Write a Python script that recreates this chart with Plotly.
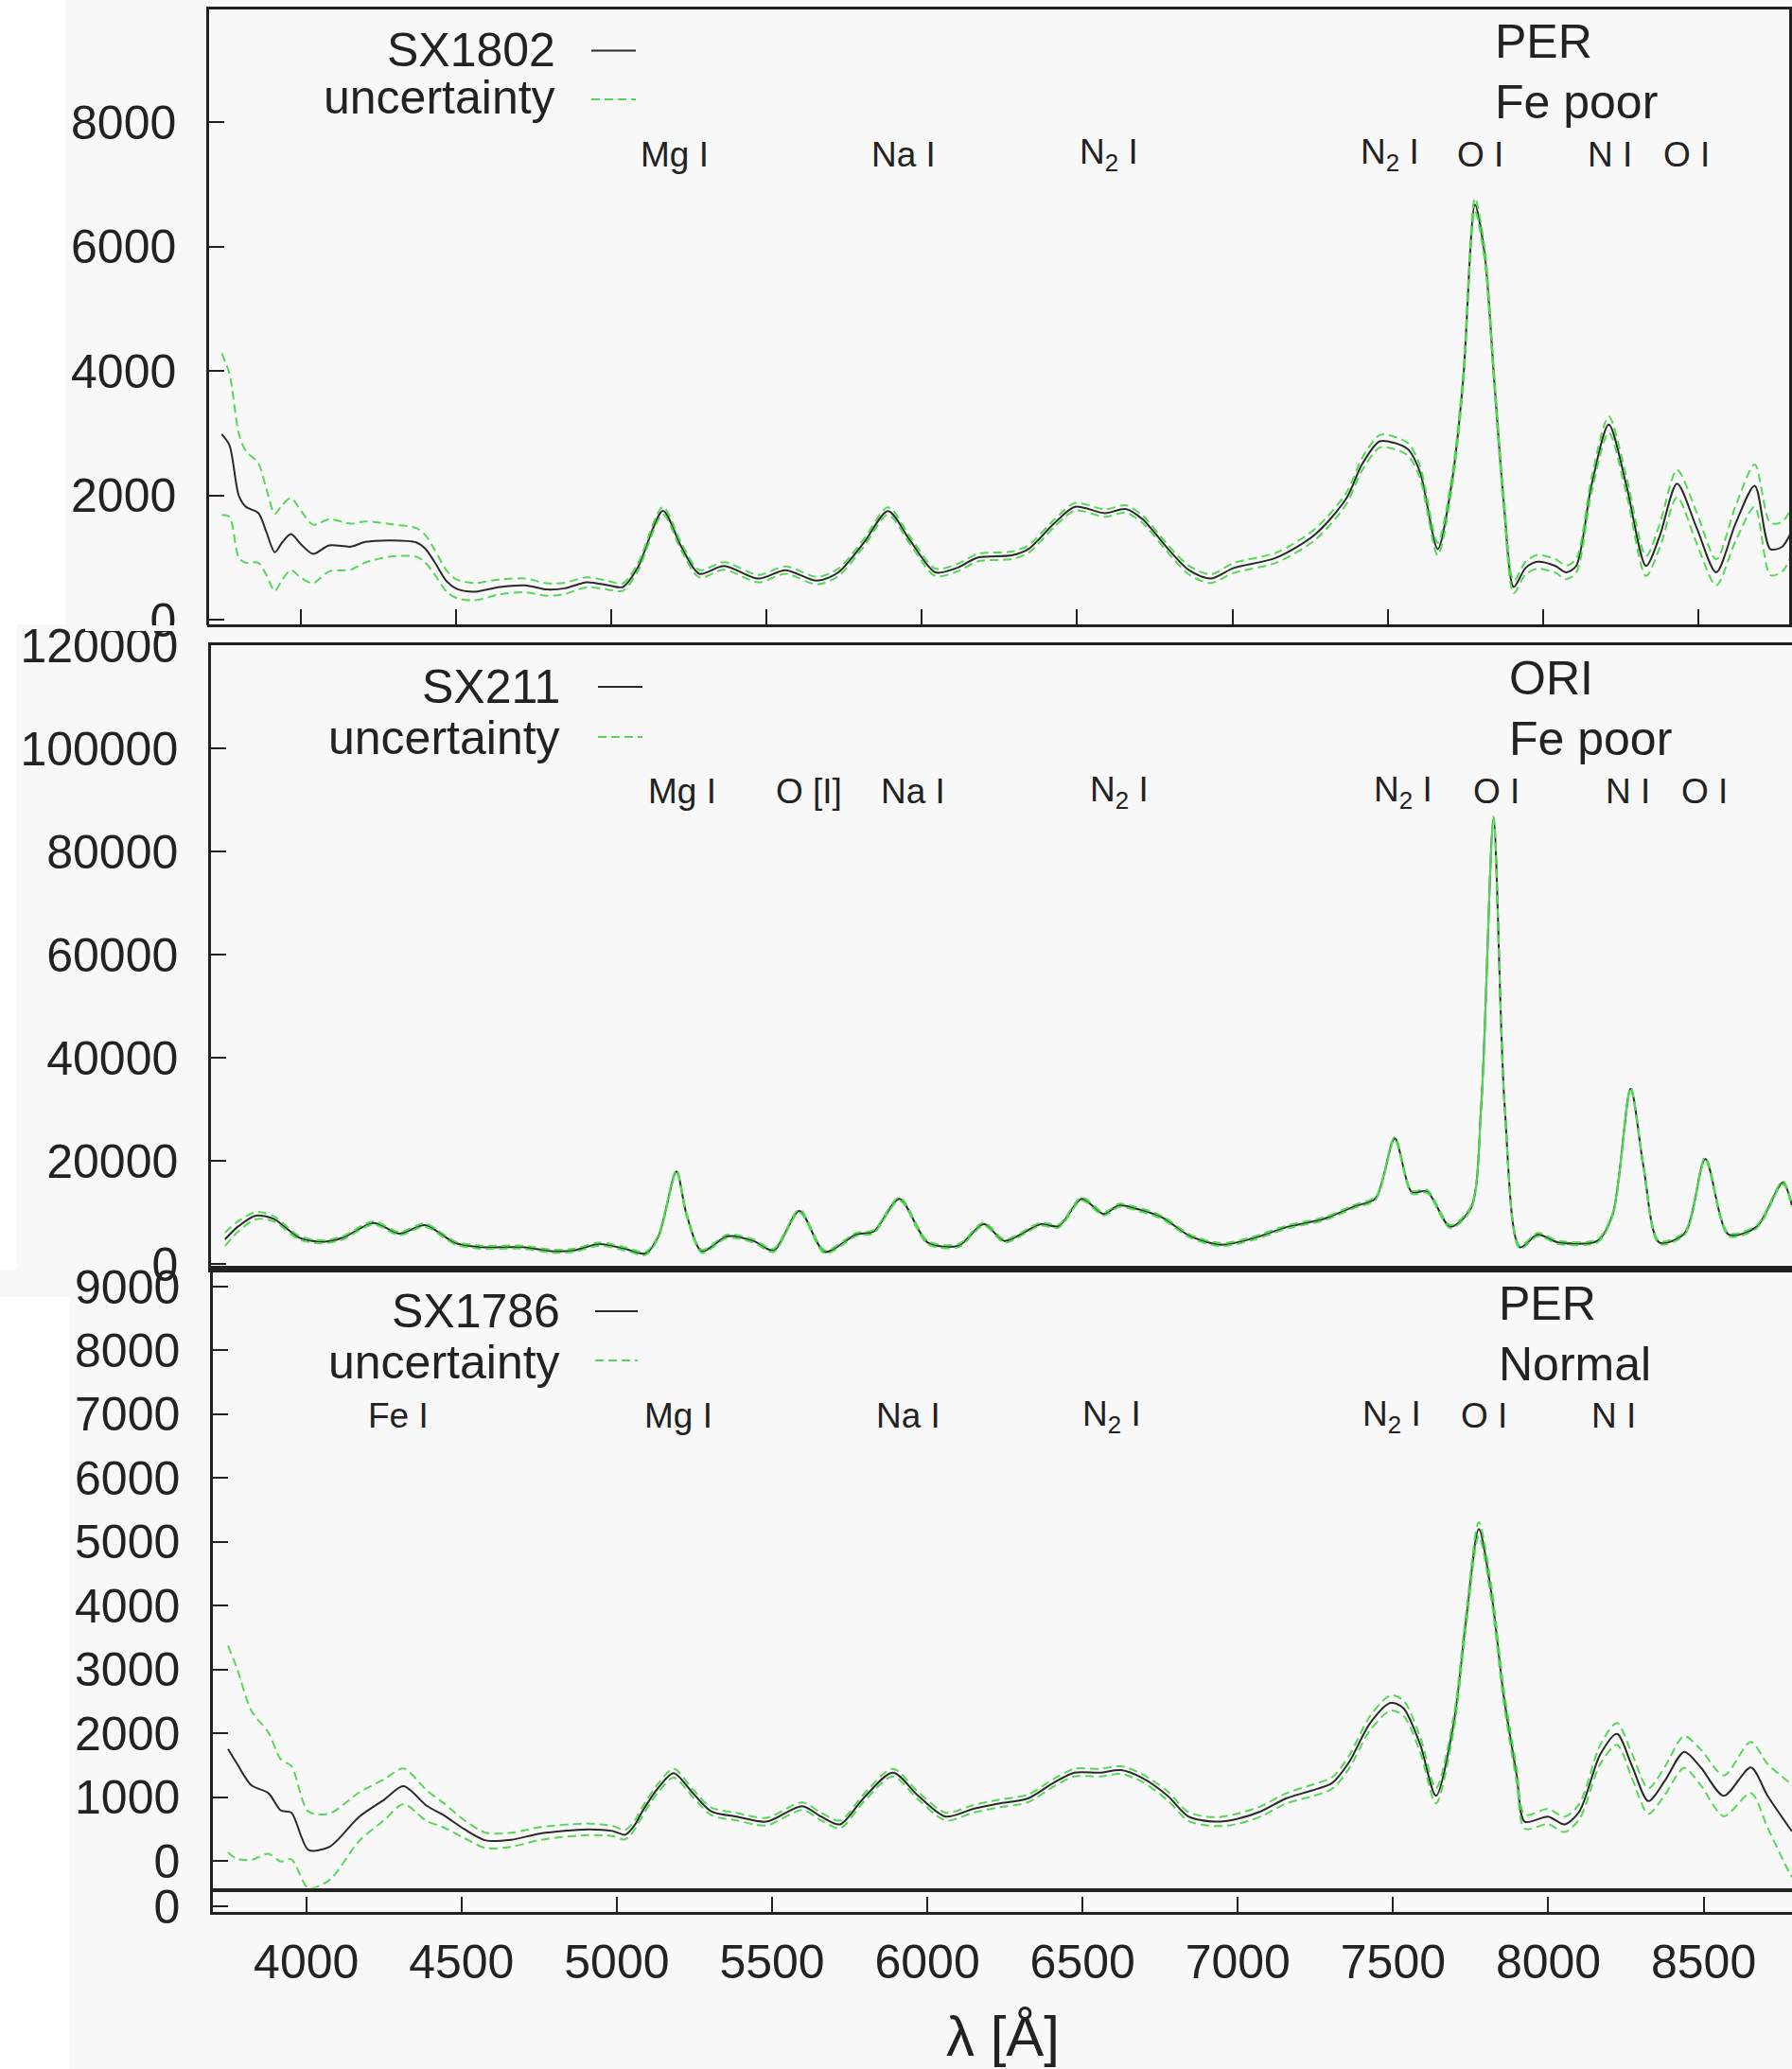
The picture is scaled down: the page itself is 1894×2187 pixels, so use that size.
import plotly.graph_objects as go

# ---------------- data ----------------
# Panel 1: SX1802 (PER, Fe poor)
p1_lam = [3745, 3770, 3800, 3822, 3863, 3887, 3916, 3940, 3968, 4000, 4039, 4091, 4161, 4208,
          4290, 4371, 4400, 4430, 4470, 4500, 4558, 4640, 4722, 4792, 4850, 4921, 4991, 5037,
          5084, 5166, 5224, 5283, 5363, 5473, 5561, 5662, 5731, 5813, 5891, 5962, 6043, 6112,
          6181, 6289, 6343, 6425, 6493, 6589, 6656, 6711, 6793, 6860, 6930, 7004, 7142, 7267,
          7367, 7417, 7474, 7520, 7567, 7605, 7661, 7705, 7743, 7781, 7812, 7843, 7875, 7906,
          7944, 7982, 8040, 8075, 8107, 8156, 8212, 8269, 8332, 8376, 8432, 8495, 8558, 8620,
          8682, 8732, 8770, 8800]
p1_flux = [2990, 2810, 2000, 1823, 1721, 1443, 1089, 1250, 1382, 1220, 1063, 1200, 1180, 1256,
           1281, 1250, 1150, 937, 620, 506, 456, 532, 557, 491, 510, 608, 557, 531,
           835, 1757, 1190, 744, 870, 666, 802, 633, 767, 1243, 1752, 1278, 767, 837,
           1005, 1040, 1141, 1549, 1821, 1719, 1786, 1618, 1141, 802, 666, 837, 1005, 1380,
           1956, 2501, 2873, 2850, 2738, 2364, 1141, 2160, 3858, 6680, 5894, 3858, 1821, 531,
           837, 937, 870, 767, 870, 2160, 3144, 2160, 870, 1352, 2194, 1482, 767, 1549,
           2160, 1141, 1177, 1420]
p1_err = [1300, 1150, 1000, 900, 800, 700, 620, 600, 580, 540, 470, 420, 370, 330,
          260, 230, 220, 200, 170, 150, 140, 120, 110, 100, 90, 80, 70, 60,
          60, 60, 60, 60, 60, 60, 60, 60, 60, 60, 60, 60, 60, 60,
          60, 60, 60, 60, 60, 60, 60, 60, 60, 70, 70, 80, 80, 90,
          90, 100, 100, 100, 100, 100, 100, 100, 100, 100, 100, 100, 100, 100,
          100, 110, 110, 110, 110, 120, 130, 140, 160, 190, 220, 250, 210, 280,
          340, 420, 400, 380]

# Panel 2: SX211 (ORI, Fe poor)
p2_lam = [3747, 3788, 3845, 3902, 3984, 4057, 4123, 4220, 4303, 4384, 4482, 4564, 4695, 4793,
          4859, 4940, 5022, 5087, 5129, 5186, 5218, 5267, 5349, 5431, 5496, 5578, 5659, 5758,
          5815, 5897, 5987, 6085, 6166, 6232, 6347, 6405, 6478, 6548, 6597, 6659, 6733, 6824,
          6922, 7021, 7136, 7251, 7349, 7415, 7476, 7530, 7579, 7653, 7719, 7752, 7791, 7826,
          7875, 7932, 7998, 8122, 8171, 8228, 8269, 8319, 8401, 8466, 8540, 8630, 8713, 8742]
p2_flux = [4840, 7290, 9430, 8820, 5150, 4350, 5150, 8020, 5940, 7600, 4100, 3320, 3320, 2520,
           2700, 3920, 3000, 2090, 5450, 17990, 9740, 2520, 5450, 4540, 2700, 10340, 2400, 5760,
           6360, 12670, 4240, 3610, 7800, 4540, 7770, 7410, 12670, 9740, 11440, 10650, 9120, 5450,
           3800, 4970, 7290, 8820, 11260, 12790, 24400, 14010, 14140, 7290, 10950, 31120, 86500, 31120,
           3320, 5760, 4240, 4540, 9740, 34000, 18900, 4240, 6070, 20430, 5760, 7290, 15850, 11440]
p2_err = [1300, 1000, 700, 500, 350, 300, 300, 300, 300, 300, 300, 300, 300, 300,
          300, 300, 300, 300, 300, 300, 300, 300, 300, 300, 300, 300, 300, 300,
          300, 300, 300, 300, 300, 300, 300, 300, 300, 300, 300, 300, 300, 300,
          300, 300, 300, 300, 300, 300, 300, 300, 300, 300, 300, 300, 300, 300,
          300, 300, 300, 300, 300, 300, 300, 300, 300, 300, 300, 300, 300, 300]

# Panel 3: SX1786 (PER, Normal)
p3_lam = [3748, 3776, 3823, 3878, 3918, 3952, 4007, 4075, 4170, 4252, 4313, 4388, 4442, 4510,
          4578, 4660, 4755, 4905, 4986, 5027, 5059, 5081, 5136, 5183, 5245, 5304, 5386, 5481,
          5597, 5658, 5719, 5794, 5889, 5971, 6059, 6148, 6229, 6324, 6406, 6474, 6556, 6624,
          6691, 6774, 6841, 6926, 6994, 7074, 7155, 7237, 7304, 7358, 7425, 7492, 7533, 7587,
          7638, 7695, 7735, 7776, 7817, 7857, 7898, 7924, 7999, 8052, 8100, 8167, 8221, 8268,
          8322, 8376, 8437, 8491, 8565, 8652, 8706, 8774, 8785]
p3_flux = [1753, 1531, 1185, 1062, 790, 755, 173, 222, 691, 963, 1170, 864, 716, 494,
           321, 331, 430, 494, 469, 410, 572, 765, 1160, 1375, 1062, 776, 694, 614,
           857, 694, 572, 979, 1383, 1019, 694, 816, 897, 979, 1222, 1383, 1383, 1423,
           1302, 1019, 694, 614, 654, 775, 978, 1100, 1222, 1545, 2153, 2476, 2396, 1828,
           1019, 2153, 3774, 5200, 4179, 2558, 1343, 614, 694, 572, 775, 1667, 1991, 1505,
           937, 1262, 1707, 1464, 1019, 1464, 1019, 534, 460]
p3_err = [1620, 1500, 1170, 950, 800, 730, 600, 520, 380, 320, 280, 240, 190, 140,
          120, 110, 100, 90, 80, 75, 70, 70, 70, 70, 60, 60, 60, 60,
          60, 60, 60, 60, 60, 60, 60, 60, 60, 60, 60, 60, 60, 60,
          60, 70, 70, 70, 80, 80, 80, 90, 90, 100, 110, 120, 120, 120,
          120, 110, 110, 110, 110, 110, 110, 110, 120, 120, 120, 150, 170, 190,
          200, 220, 250, 280, 320, 400, 500, 700, 720]

x_ticks = [4000, 4500, 5000, 5500, 6000, 6500, 7000, 7500, 8000, 8500]
p1_yticks = [0, 2000, 4000, 6000, 8000]
p2_yticks = [0, 20000, 40000, 60000, 80000, 100000, 120000]
p3_yticks = [0, 1000, 2000, 3000, 4000, 5000, 6000, 7000, 8000, 9000]

p1_labels = ["Mg I", "Na I", "N<sub>2</sub> I", "N<sub>2</sub> I", "O I", "N I", "O I"]
p1_label_lam = [5204, 5942, 6601, 7506, 7799, 8216, 8463]
p2_labels = ["Mg I", "O [I]", "Na I", "N<sub>2</sub> I", "N<sub>2</sub> I", "O I", "N I", "O I"]
p2_label_lam = [5204, 5608, 5940, 6597, 7502, 7801, 8218, 8463]
p3_labels = ["Fe I", "Mg I", "Na I", "N<sub>2</sub> I", "N<sub>2</sub> I", "O I", "N I"]
p3_label_lam = [4296, 5198, 5938, 6594, 7496, 7793, 8211]

# ---------------- style ----------------
W, H = 1894, 2187
FONT = "Liberation Sans"
INK = "#222222"
BLACK = "#2a2a2a"
GREEN = "#55d855"
BG = "#f8f8f8"


def fx(px):
    return px / W


def fy(py):
    return 1 - py / H


fig = go.Figure()


def add_panel(lam, flux, err, xa, ya, name):
    upper = [f + e for f, e in zip(flux, err)]
    lower = [f - e for f, e in zip(flux, err)]
    fig.add_trace(go.Scatter(x=lam, y=flux, mode="lines", name=name, showlegend=False,
                             line=dict(color=BLACK, width=2, shape="spline", smoothing=0.8),
                             xaxis=xa, yaxis=ya))
    for arr in (upper, lower):
        fig.add_trace(go.Scatter(x=lam, y=arr, mode="lines", name="uncertainty", showlegend=False,
                                 line=dict(color=GREEN, width=2, dash="9px,5px",
                                           shape="spline", smoothing=0.8),
                                 xaxis=xa, yaxis=ya))


add_panel(p1_lam, p1_flux, p1_err, "x", "y", "SX1802")
add_panel(p2_lam, p2_flux, p2_err, "x2", "y2", "SX211")
add_panel(p3_lam, p3_flux, p3_err, "x3", "y3", "SX1786")
fig.add_trace(go.Scatter(x=[], y=[], xaxis="x4", yaxis="y4", showlegend=False))

tickfont = dict(family=FONT, size=50, color=INK)
base = dict(showgrid=False, zeroline=False, showline=True, linecolor=INK, linewidth=2.5,
            tickcolor=INK, tickwidth=2, ticklen=16, tickfont=tickfont, automargin=False)
YSTAND = 22

fig.update_layout(
    template="none",
    width=W, height=H, margin=dict(l=0, r=0, t=0, b=0, pad=0), autosize=False,
    paper_bgcolor=BG, plot_bgcolor=BG, showlegend=False,
    xaxis=dict(base, domain=[fx(221), fx(1891)], range=[3704.4, 8792.9], anchor="y",
               tickvals=x_ticks, ticks="inside", showticklabels=False, mirror=True),
    yaxis=dict(base, domain=[fy(660), fy(10)], range=[-70, 9817], anchor="x",
               tickvals=p1_yticks, ticks="inside", tickformat="d", mirror=True,
               ticklabelstandoff=YSTAND),
    xaxis2=dict(base, domain=[fx(223), 1.0], range=[3702.3, 8742.4], anchor="y2",
                ticks="", showticklabels=False, mirror=True, linewidth=3),
    yaxis2=dict(base, domain=[fy(1342), fy(682)], range=[-1027, 120018], anchor="x2",
                tickvals=p2_yticks, ticks="inside", tickformat="d", ticklabelstandoff=YSTAND),
    xaxis3=dict(base, domain=[fx(225), 1.0], range=[3699.3, 8784.6], anchor="y3",
                ticks="", showticklabels=False, mirror=True, linewidth=3.5),
    yaxis3=dict(base, domain=[fy(1995.6), fy(1342)], range=[-424, 9267], anchor="x3",
                tickvals=p3_yticks, ticks="inside", tickformat="d", ticklabelstandoff=YSTAND),
    xaxis4=dict(base, domain=[fx(225), 1.0], range=[3699.3, 8784.6], anchor="y4",
                tickvals=x_ticks, ticks="inside", tickformat="d", ticklabelstandoff=7),
    yaxis4=dict(base, domain=[fy(2021), fy(1995.6)], range=[-0.236, 0.764], anchor="x4",
                tickvals=[0], ticks="inside", tickformat="d", ticklabelstandoff=YSTAND),
)

shapes = []
# white margins of the composite picture
for x0, x1, y0, y1 in [(0, 69, 0, 660), (0, 18, 660, 1342), (0, 74, 1371, H)]:
    shapes.append(dict(type="rect", xref="paper", yref="paper", x0=fx(x0), x1=fx(x1),
                       y0=fy(y1), y1=fy(y0), fillcolor="white", line=dict(width=0), layer="below"))
# hide lower part of panel-1 "0" (cut by the panel below)
shapes.append(dict(type="rect", xref="paper", yref="paper", x0=fx(90), x1=fx(219),
                   y0=fy(667), y1=fy(661), fillcolor=BG, line=dict(width=0), layer="above"))

annotations = []


def legend(name, right_px, y1, y2, line_x0, line_x1, ly1, ly2):
    annotations.append(dict(text=name, x=fx(right_px), y=fy(y1), xref="paper", yref="paper",
                            xanchor="right", yanchor="middle", showarrow=False,
                            font=dict(family=FONT, size=50, color=INK)))
    annotations.append(dict(text="uncertainty", x=fx(right_px), y=fy(y2), xref="paper", yref="paper",
                            xanchor="right", yanchor="middle", showarrow=False,
                            font=dict(family=FONT, size=50, color=INK)))
    shapes.append(dict(type="line", xref="paper", yref="paper", x0=fx(line_x0), x1=fx(line_x1),
                       y0=fy(ly1), y1=fy(ly1), line=dict(color=BLACK, width=2), layer="above"))
    shapes.append(dict(type="line", xref="paper", yref="paper", x0=fx(line_x0), x1=fx(line_x1),
                       y0=fy(ly2), y1=fy(ly2), line=dict(color=GREEN, width=2, dash="9px,5px"),
                       layer="above"))


legend("SX1802", 589, 52.5, 102.5, 625, 672, 53.6, 105)
legend("SX211", 594, 726, 780, 632, 679, 726, 779)
legend("SX1786", 594, 1386, 1440, 629, 674, 1386, 1438)


def side_text(lines, left_px, ys):
    for t, yy in zip(lines, ys):
        annotations.append(dict(text=t, x=fx(left_px), y=fy(yy), xref="paper", yref="paper",
                                xanchor="left", yanchor="middle", showarrow=False,
                                font=dict(family=FONT, size=50, color=INK)))


side_text(["PER", "Fe poor"], 1578, [44.5, 108])
side_text(["ORI", "Fe poor"], 1593, [717, 781])
side_text(["PER", "Normal"], 1582, [1377.6, 1442])


def line_labels(labels, lams, xref, ypx):
    for t, l in zip(labels, lams):
        annotations.append(dict(text=t, x=l, y=fy(ypx), xref=xref, yref="paper",
                                xanchor="center", yanchor="middle", showarrow=False,
                                font=dict(family=FONT, size=37, color=INK)))


line_labels(p1_labels, p1_label_lam, "x", 163)
line_labels(p2_labels, p2_label_lam, "x2", 837)
line_labels(p3_labels, p3_label_lam, "x3", 1496.7)

annotations.append(dict(text="λ [Å]", x=fx(1060), y=fy(2152), xref="paper", yref="paper",
                        xanchor="center", yanchor="middle", showarrow=False,
                        font=dict(family=FONT, size=60, color=INK)))

fig.update_layout(shapes=shapes, annotations=annotations)
fig.write_html("out.html", config={"displayModeBar": False},
               post_script="document.body.style.margin='0';")
